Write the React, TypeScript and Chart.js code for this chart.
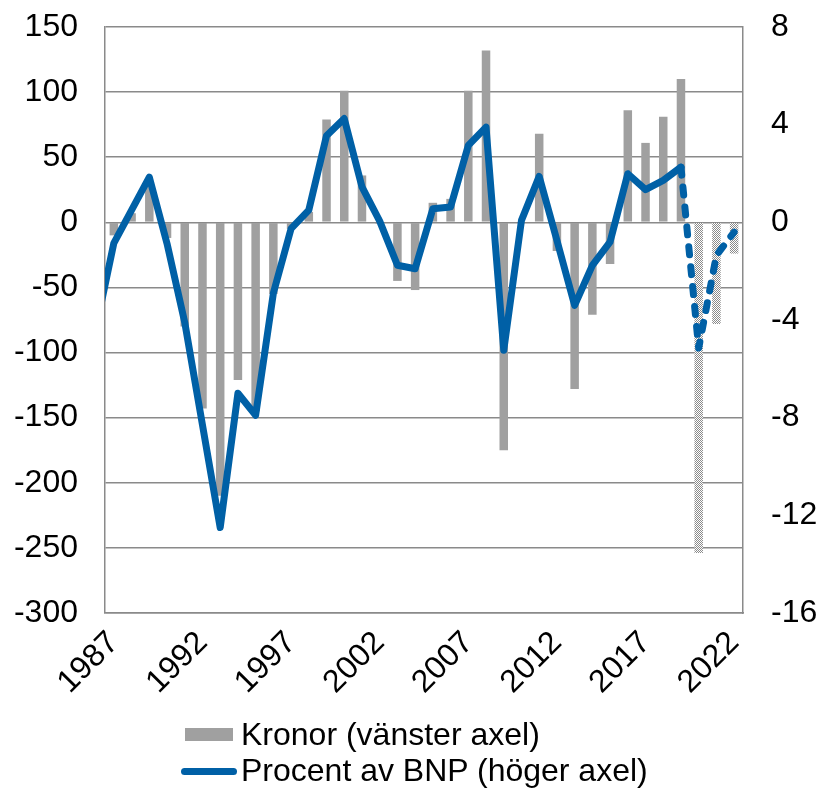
import React, { useEffect, useRef } from 'react';
import { Chart, registerables } from 'chart.js';

Chart.register(...registerables);

// Categories (1986 only carries the line's off-axis lead-in point)
const years: string[] = [
  '1986', '1987', '1988', '1989', '1990', '1991', '1992', '1993', '1994', '1995',
  '1996', '1997', '1998', '1999', '2000', '2001', '2002', '2003', '2004', '2005',
  '2006', '2007', '2008', '2009', '2010', '2011', '2012', '2013', '2014', '2015',
  '2016', '2017', '2018', '2019', '2020', '2021', '2022',
];

// Kronor (miljarder), left axis
const kronor: (number | null)[] = [
  null, -10, 7, 28, -12, -80, -143, -210, -121, -145,
  -55, -5, 8, 79, 101, 36, -1, -45, -52, 15,
  18, 101, 132, -175, 0, 68, -22, -128, -71, -32,
  86, 61, 81, 110, -254, -78, -24,
];

// Procent av BNP, right axis
const procent: number[] = [
  -4.3, -0.85, 0.5, 1.85, -0.87, -4.1, -8.3, -12.5, -7.0, -7.9,
  -2.9, -0.26, 0.5, 3.55, 4.25, 1.45, 0.05, -1.76, -1.9, 0.56,
  0.63, 3.15, 3.9, -5.24, 0.08, 1.88, -0.74, -3.4, -1.76, -0.8,
  1.99, 1.34, 1.72, 2.26, -5.15, -1.35, -0.4,
];

const forecastFrom = '2020';
const firstShown = '1987';
const labelEvery = 5;

const leftTicks = { min: -300, max: 150, step: 50 };
const rightTicks = { min: -16, max: 8, step: 4 };

const legendBars = 'Kronor (vänster axel)';
const legendLine = 'Procent av BNP (höger axel)';

const BLUE = '#0060A6';
const GREY = '#A0A0A0';
const GRID = '#8A8A8A';
const FONT = '"Liberation Sans", Arial, sans-serif';
const FONT_SIZE = 32;

function makePattern(): CanvasPattern | string {
  const c = document.createElement('canvas');
  c.width = 2;
  c.height = 2;
  const g = c.getContext('2d');
  if (!g) return GREY;
  g.fillStyle = '#ffffff';
  g.fillRect(0, 0, 2, 2);
  g.fillStyle = '#8a8a8a';
  g.fillRect(0, 0, 1, 1);
  g.fillRect(1, 1, 1, 1);
  return g.createPattern(c, 'repeat') || GREY;
}

export default function App() {
  const ref = useRef<HTMLCanvasElement>(null);

  useEffect(() => {
    if (!ref.current) return;
    Chart.defaults.font.family = FONT;
    Chart.defaults.font.size = FONT_SIZE;
    Chart.defaults.color = '#000000';

    const fIdx = years.indexOf(forecastFrom);
    const firstYear = parseInt(firstShown, 10);
    const pattern = makePattern();
    const barColors = kronor.map((_, i) => (i >= fIdx ? pattern : GREY));

    const chart = new Chart(ref.current, {
      type: 'bar',
      data: {
        labels: years,
        datasets: [
          {
            type: 'line',
            label: legendLine,
            data: procent,
            yAxisID: 'y1',
            borderColor: BLUE,
            backgroundColor: BLUE,
            borderWidth: 7,
            pointRadius: 0,
            pointHoverRadius: 0,
            tension: 0,
            borderJoinStyle: 'round',
            borderCapStyle: 'round',
            clip: 0,
            order: 0,
            segment: {
              borderDash: (ctx: any) => (ctx.p1DataIndex >= fIdx ? [8, 12] : undefined),
            },
          } as any,
          {
            type: 'bar',
            label: legendBars,
            data: kronor,
            yAxisID: 'y',
            backgroundColor: barColors as any,
            borderWidth: 0,
            barPercentage: 0.48,
            categoryPercentage: 1,
            order: 1,
          } as any,
        ],
      },
      options: {
        responsive: false,
        animation: false,
        events: [],
        layout: { padding: { top: 27, left: 0, right: 0, bottom: 0 } },
        plugins: {
          legend: { display: false },
          tooltip: { enabled: false },
        },
        scales: {
          x: {
            min: firstShown,
            offset: true,
            grid: { display: false, drawTicks: false },
            border: { display: true, color: GRID, width: 1.5 },
            ticks: {
              autoSkip: false,
              maxRotation: 45,
              minRotation: 45,
              padding: 11,
              callback: (v: any) => {
                const y = parseInt(years[v as number], 10);
                return (y - firstYear) % labelEvery === 0 ? String(y) : '';
              },
            },
            afterFit: (s: any) => {
              s.height = 175;
            },
          },
          y: {
            position: 'left',
            min: leftTicks.min,
            max: leftTicks.max,
            grid: {
              color: GRID,
              lineWidth: 1.5,
              drawTicks: true,
              tickLength: 24,
              tickColor: 'rgba(0,0,0,0)',
            },
            border: { display: true, color: GRID, width: 1.5 },
            ticks: {
              stepSize: leftTicks.step,
              padding: 3,
              callback: (v: any) => String(v),
            },
            afterFit: (s: any) => {
              s.width = 105;
            },
          },
          y1: {
            position: 'right',
            min: rightTicks.min,
            max: rightTicks.max,
            grid: {
              display: true,
              drawOnChartArea: false,
              color: 'rgba(0,0,0,0)',
              drawTicks: true,
              tickLength: 25,
              tickColor: 'rgba(0,0,0,0)',
            },
            border: { display: true, color: GRID, width: 1.5 },
            ticks: {
              stepSize: rightTicks.step,
              padding: 3,
              callback: (v: any) => String(v),
            },
            afterFit: (s: any) => {
              s.width = 78;
            },
          },
        },
      },
    });
    return () => chart.destroy();
  }, []);

  const textStyle: React.CSSProperties = {
    position: 'absolute',
    left: 241,
    fontFamily: FONT,
    fontSize: 32,
    color: '#000',
    whiteSpace: 'nowrap',
    lineHeight: '36px',
  };

  return (
    <div style={{ position: 'fixed', left: 0, top: 0, width: 821, height: 788, background: '#fff' }}>
      <canvas ref={ref} width={821} height={788} style={{ position: 'absolute', left: 0, top: 0 }} />
      <div style={{ position: 'absolute', left: 185, top: 728, width: 48, height: 13, background: GREY }} />
      <div style={{ ...textStyle, top: 716 }}>{legendBars}</div>
      <div style={{ position: 'absolute', left: 181, top: 768, width: 56, height: 7, borderRadius: 4, background: BLUE }} />
      <div style={{ ...textStyle, top: 752 }}>{legendLine}</div>
    </div>
  );
}
